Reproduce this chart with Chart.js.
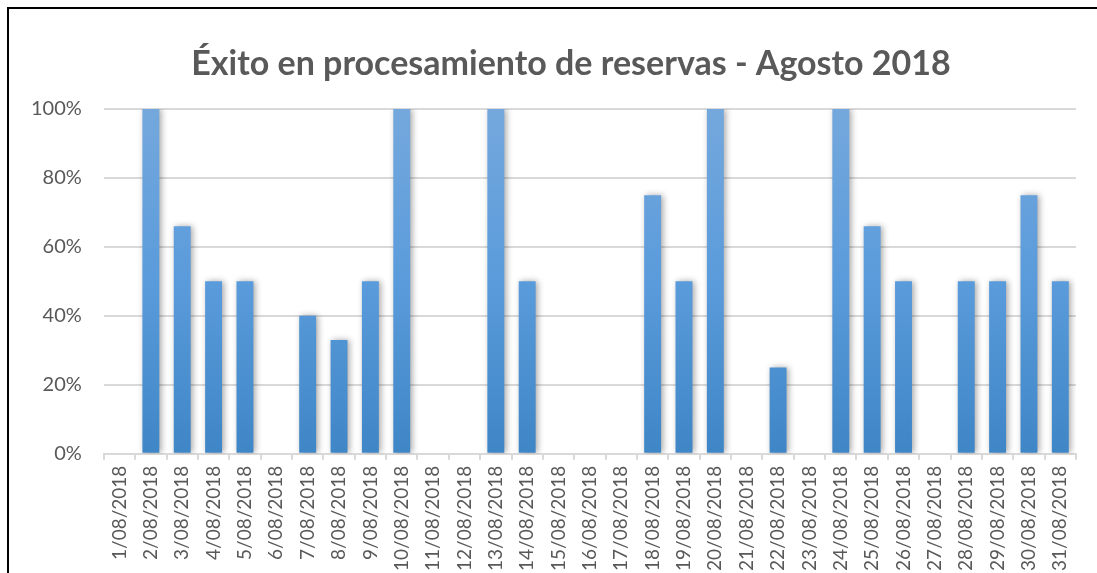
<!DOCTYPE html>
<html>
<head>
<meta charset="utf-8">
<script src="https://cdn.jsdelivr.net/npm/chart.js@4.4.0/dist/chart.umd.min.js"></script>
<style>
    html, body { margin: 0; padding: 0; background: #fff; overflow: hidden; }
    #frame {
        position: absolute; left: 7px; top: 7px;
        width: 1124px; height: 620px;
        border: 2px solid #000; background: #fff;
    }
    #chart { position: absolute; left: 0; top: 0; }
</style>
</head>
<body>
<div id="frame"><canvas id="chart" width="1124" height="600"></canvas></div>
<script>
// Data
const chartTitle = 'Éxito en procesamiento de reservas - Agosto 2018';
const days = [];
for (let d = 1; d <= 31; d++) days.push(d + '/08/2018');
const successRate = [0, 100, 66, 50, 50, 0, 40, 33, 50, 100, 0, 0, 100, 50, 0, 0, 0,
                     75, 50, 100, 0, 25, 0, 100, 66, 50, 0, 50, 50, 75, 50];
const yTicks = [0, 20, 40, 60, 80, 100];

const textColor = '#595959';
const gridColor = '#d9d9d9';

// title centred on the whole chart object (which runs past the right edge of the shot)
const centredTitle = {
    id: 'centredTitle',
    afterDraw(chart) {
        const ctx = chart.ctx;
        ctx.save();
        ctx.fillStyle = textColor;
        ctx.font = 'bold 34px Lato';
        ctx.textAlign = 'center';
        ctx.textBaseline = 'alphabetic';
        ctx.fillText(chartTitle, chart.width / 2, 66);
        ctx.restore();
    }
};

// soft shadow behind the bars, like the spreadsheet look
const barShadow = {
    id: 'barShadow',
    beforeDatasetsDraw(chart) {
        const ctx = chart.ctx;
        ctx.save();
        ctx.shadowColor = 'rgba(0,0,0,0.35)';
        ctx.shadowBlur = 6;
        ctx.shadowOffsetX = 2;
        ctx.shadowOffsetY = 0;
    },
    afterDatasetsDraw(chart) {
        chart.ctx.restore();
    }
};

function barGradient(context) {
    const chart = context.chart;
    const area = chart.chartArea;
    if (!area) return '#5b9bd5';
    const g = chart.ctx.createLinearGradient(0, area.top, 0, area.bottom);
    g.addColorStop(0, '#74a8dd');
    g.addColorStop(0.5, '#5a9bdb');
    g.addColorStop(1, '#3f86c6');
    return g;
}

const ctx = document.getElementById('chart').getContext('2d');
new Chart(ctx, {
    type: 'bar',
    data: {
        labels: days,
        datasets: [{
            label: 'Éxito',
            data: successRate,
            backgroundColor: barGradient,
            borderWidth: 0,
            categoryPercentage: 1,
            barPercentage: 0.54
        }]
    },
    options: {
        responsive: false,
        animation: false,
        layout: { padding: { top: 100, right: 57, left: 0, bottom: 32 } },
        plugins: {
            legend: { display: false },
            tooltip: { enabled: false },
            title: { display: false }
        },
        scales: {
            x: {
                offset: true,
                grid: { drawOnChartArea: false, offset: true, tickLength: 6, color: gridColor, lineWidth: 2 },
                border: { color: gridColor, width: 2 },
                ticks: {
                    color: textColor,
                    font: { family: 'Lato', size: 19 },
                    minRotation: 90,
                    maxRotation: 90,
                    autoSkip: false,
                    padding: 6
                }
            },
            y: {
                min: 0,
                max: 100,
                afterBuildTicks(axis) { axis.ticks = yTicks.map(v => ({ value: v })); },
                grid: { color: gridColor, lineWidth: 2, drawTicks: false },
                border: { display: false },
                ticks: {
                    color: textColor,
                    font: { family: 'Lato', size: 20 },
                    padding: 22,
                    callback: v => v + '%'
                }
            }
        }
    },
    plugins: [barShadow, centredTitle]
});
</script>
</body>
</html>
